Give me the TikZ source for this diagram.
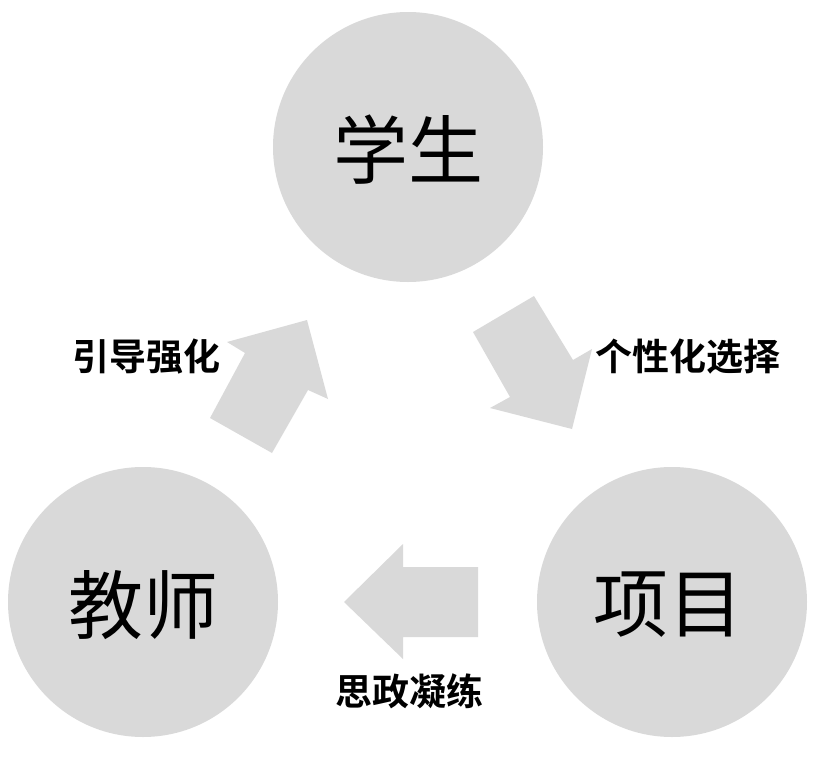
\documentclass[tikz,border=0pt]{standalone}
\usepackage{fontspec}
\setmainfont{Noto Sans CJK SC}
\newfontfamily\cjkbold{Noto Sans CJK SC Bold}
\definecolor{shapegray}{HTML}{D9D9D9}
\begin{document}
\begin{tikzpicture}[x=1pt,y=-1pt,
  bubble/.style={circle,fill=shapegray,minimum size=270pt,inner sep=0pt,font=\fontsize{75pt}{80pt}\selectfont},
  fatarrow/.style={fill=shapegray,draw=none},
  lbl/.style={inner sep=0pt,font=\cjkbold\fontsize{37pt}{40pt}\selectfont}]
\useasboundingbox (0,0) rectangle (815,761);
\node[bubble] (stu) at (408,147) {};
\node[bubble] (tea) at (143,602) {};
\node[bubble] (pro) at (672,602) {};
\node[inner sep=0pt,font=\fontsize{75pt}{80pt}\selectfont] (stut) at (408,150) {学生};
\node[inner sep=0pt,font=\fontsize{75pt}{80pt}\selectfont] (teat) at (143,605) {教师};
\node[inner sep=0pt,font=\fontsize{75pt}{80pt}\selectfont] (prot) at (668,605) {项目};
% arrow teacher -> student
\fill[fatarrow] (307,320) -- (328,399) -- (308,390) -- (272,453) -- (210,418) -- (245,353) -- (227,342) -- cycle;
% arrow student -> project
\fill[fatarrow] (534,296) -- (573,360) -- (592,349) -- (572,429) -- (490,408) -- (510,397) -- (473,332) -- cycle;
% arrow project -> teacher
\fill[fatarrow] (344,602) -- (403,544) -- (403,567) -- (478,567) -- (478,637) -- (403,637) -- (403,659) -- cycle;
\node[lbl] (l1) at (146,357) {引导强化};
\node[lbl] (l2) at (688,357) {个性化选择};
\node[lbl] (l3) at (409,691) {思政凝练};
\end{tikzpicture}
\end{document}
